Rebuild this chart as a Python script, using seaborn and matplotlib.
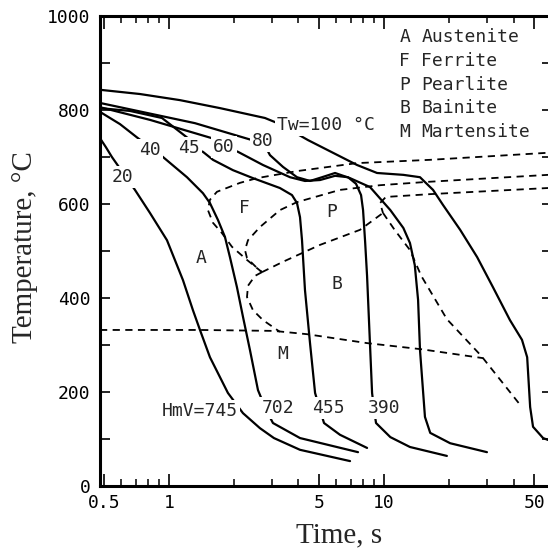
import matplotlib
matplotlib.use("Agg")
import matplotlib.pyplot as plt
from matplotlib.ticker import FixedLocator, NullFormatter
import seaborn as sns

# cooling curves: time (s) / temperature (C)
cool_20_t = [0.478, 0.509, 0.543, 0.695, 0.816, 0.979, 1.162, 1.293, 1.394, 1.551, 1.880, 2.209, 2.650, 3.077, 4.068, 6.95]
cool_20_T = [740, 721, 700, 630, 581, 523, 438, 374, 332, 274, 198, 155, 123, 102, 77, 53]

cool_40_t = [0.478, 0.592, 0.718, 0.816, 0.938, 1.213, 1.439, 1.551, 1.690, 1.821, 1.921, 2.071, 2.209, 2.381, 2.594, 2.83, 3.045, 4.068, 7.57]
cool_40_T = [796, 770, 740, 721, 700, 657, 623, 602, 566, 530, 487, 423, 360, 289, 204, 162, 134, 102, 72]

cool_45_t = [0.478, 0.659, 0.928, 1.226, 1.321, 1.439, 1.602, 1.984, 2.459, 3.280, 3.733, 3.939, 4.068, 4.156, 4.29, 4.528, 4.78, 5.04, 5.26, 6.24, 8.34]
cool_45_T = [804, 798, 783, 740, 717, 711, 694, 672, 655, 634, 619, 602, 572, 523, 417, 304, 198, 162, 134, 109, 81]

cool_60_t = [0.478, 0.816, 1.585, 1.80, 2.094, 2.736, 3.655, 4.29, 5.04, 5.92, 6.80, 7.41, 7.82, 7.99, 8.17, 8.34, 8.80, 8.99, 9.18, 10.7, 13.2, 19.6]
cool_60_T = [806, 779, 740, 723, 711, 683, 657, 649, 651, 660, 657, 643, 619, 587, 519, 447, 198, 162, 134, 104, 83, 64]

cool_80_t = [0.478, 1.321, 2.433, 2.736, 2.949, 3.389, 3.939, 4.528, 5.15, 5.92, 6.95, 8.61, 10.7, 12.3, 13.2, 13.9, 14.4, 14.7, 15.5, 16.4, 20.3, 30.1]
cool_80_T = [815, 772, 736, 732, 704, 679, 657, 649, 657, 666, 655, 636, 587, 549, 517, 470, 396, 289, 147, 113, 91, 72]

cool_100_t = [0.478, 0.733, 1.125, 1.727, 2.795, 3.28, 4.43, 7.49, 9.28, 12.3, 14.7, 16.9, 18.8, 22.6, 27.1, 32.1, 38.5, 43.8, 46.3, 47.8, 49.3, 54.9, 57.9, 62]
cool_100_T = [843, 834, 821, 804, 783, 770, 736, 683, 666, 662, 657, 630, 598, 545, 487, 423, 353, 311, 274, 168, 126, 102, 98, 97]

# transformation boundaries (dashed)
fs_t = [2.707, 2.306, 1.963, 1.764, 1.602, 1.518, 1.551, 1.672, 2.140, 2.567, 3.939, 7.49, 16.4, 57.9, 62]
fs_T = [455, 481, 509, 538, 560, 587, 609, 626, 645, 655, 670, 687, 694, 709, 709]
ps_t = [62, 57.9, 15.8, 9.58, 6.24, 3.939, 3.280, 2.650, 2.331, 2.257, 2.306, 2.512, 2.707]
ps_T = [662, 662, 647, 640, 630, 604, 587, 551, 523, 502, 485, 468, 455]
low_t = [2.707, 2.512, 2.331, 2.306, 2.459, 2.736, 3.280]
low_T = [455, 447, 426, 402, 374, 353, 328]
bs_t = [2.707, 3.389, 5.04, 7.73, 9.89]
bs_T = [455, 477, 513, 545, 581]
pf_t = [62, 57.9, 16.4, 10.2, 9.58, 9.89]
pf_T = [634, 634, 621, 615, 602, 581]
bf_t = [9.89, 11.2, 13.2, 14.9, 19.6, 28.3, 43.4]
bf_T = [581, 545, 502, 447, 355, 277, 170]
ms_t = [0.478, 1.394, 3.077, 4.384, 8.34, 14.9, 28.9]
ms_T = [332, 332, 330, 323, 304, 291, 272]

# labels
curve_labels = ["20", "40", "45", "60", "80"]
curve_label_t = [0.611, 0.816, 1.239, 1.80, 2.736]
curve_label_T = [657, 715, 719, 721, 734]
hard_labels = ["702", "455", "390"]
hard_label_t = [3.21, 5.49, 10.0]
hard_label_T = [166, 166, 166]
phase_letters = ["A", "F", "P", "B", "M"]
phase_t = [1.409, 2.233, 5.73, 6.04, 3.389]
phase_T = [485, 591, 583, 430, 281]
legend_abbr = ["A", "F", "P", "B", "M"]
legend_names = ["Austenite", "Ferrite", "Pearlite", "Bainite", "Martensite"]

sns.set_theme(style="ticks")
plt.rcParams["font.family"] = ["DejaVu Sans Mono"]

fig = plt.figure(figsize=(5.48, 5.52), dpi=100)
ax = fig.add_axes([100 / 548, 66 / 552, 452 / 548, 470 / 552])

solid = dict(color="black", lw=1.6, sort=False, estimator=None, ax=ax)
for t, T in [(cool_20_t, cool_20_T), (cool_40_t, cool_40_T), (cool_45_t, cool_45_T),
             (cool_60_t, cool_60_T), (cool_80_t, cool_80_T), (cool_100_t, cool_100_T)]:
    sns.lineplot(x=t, y=T, **solid)

dashed = dict(color="black", lw=1.3, sort=False, estimator=None, ax=ax, linestyle=(0, (4, 3)))
for t, T in [(fs_t, fs_T), (ps_t, ps_T), (low_t, low_T), (bs_t, bs_T),
             (pf_t, pf_T), (bf_t, bf_T), (ms_t, ms_T)]:
    sns.lineplot(x=t, y=T, **dashed)

ax.set_xscale("log")
ax.set_xlim(0.478, 60.4)
ax.set_ylim(0, 1000)

lab = dict(fontsize=13, ha="center", va="center", zorder=5,
           bbox=dict(facecolor="white", edgecolor="none", pad=1.5))
for s, t, T in zip(curve_labels, curve_label_t, curve_label_T):
    ax.text(t, T, s, **lab)
for s, t, T in zip(hard_labels, hard_label_t, hard_label_T):
    ax.text(t, T, s, **lab)
ax.text(2.094, 160, "HmV=745", **{**lab, "ha": "right"})
ax.text(3.18, 768, "Tw=100 °C", **{**lab, "ha": "left"})
for s, t, T in zip(phase_letters, phase_t, phase_T):
    ax.text(t, T, s, fontsize=13, ha="center", va="center")

for i, (a, n) in enumerate(zip(legend_abbr, legend_names)):
    y = 0.955 - i * 0.0505
    ax.text(0.662, y, a, transform=ax.transAxes, fontsize=13, va="center", ha="left")
    ax.text(0.711, y, n, transform=ax.transAxes, fontsize=13, va="center", ha="left")

# ticks
ax.xaxis.set_major_locator(FixedLocator([0.5, 1, 5, 10, 50]))
ax.xaxis.set_minor_locator(FixedLocator([0.6, 0.7, 0.8, 0.9, 2, 3, 4, 6, 7, 8, 9, 20, 30, 40]))
ax.xaxis.set_minor_formatter(NullFormatter())
ax.set_xticklabels(["0.5", "1", "5", "10", "50"])
ax.yaxis.set_major_locator(FixedLocator([0, 200, 400, 600, 800, 1000]))
ax.yaxis.set_minor_locator(FixedLocator([100, 300, 500, 700, 900]))
ax.set_yticklabels(["0", "200", "400", "600", "800", "1000"])
ax.tick_params(which="both", direction="in", top=True, right=True, color="black",
               labelsize=13, labelcolor="black")
ax.tick_params(axis="x", which="major", length=9, width=1.2, pad=6)
ax.tick_params(axis="x", which="minor", length=5, width=1.1)
ax.tick_params(axis="y", which="both", length=7, width=1.2, pad=7)
for sp in ax.spines.values():
    sp.set_linewidth(2.2)
    sp.set_color("black")
ax.set_xlabel("")
ax.set_ylabel("")

fig.text(339 / 548, 1 - 542 / 552, "Time, s", family="Liberation Serif", fontsize=21,
         ha="center", va="baseline")
fig.text(25 / 548, 1 - 247 / 552, "Temperature, °C", family="Liberation Serif", fontsize=21,
         ha="center", va="center", rotation=90)

fig.savefig("out.png", dpi=100)
